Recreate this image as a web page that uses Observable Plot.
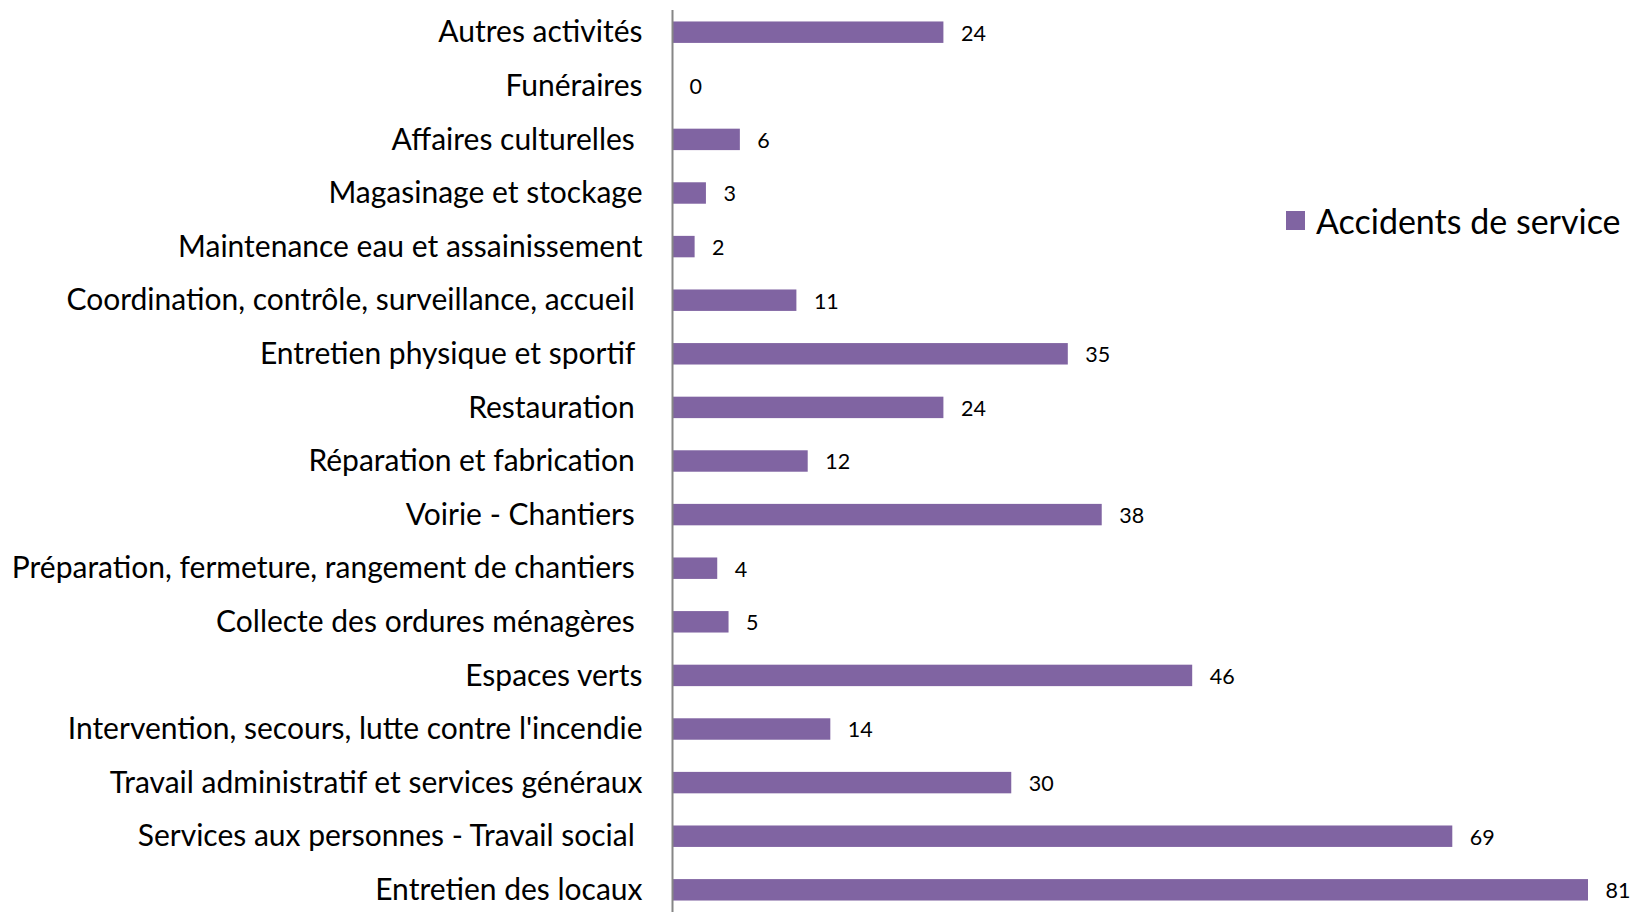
<!DOCTYPE html>
<html>
<head>
<meta charset="utf-8">
<script src="https://cdn.jsdelivr.net/npm/d3@7"></script>
<script src="https://cdn.jsdelivr.net/npm/@observablehq/plot@0.6"></script>
<style>
  html, body { margin: 0; padding: 0; background: #fff; }
  #wrap { position: relative; width: 1637px; height: 912px; font-family: Lato, "Open Sans", sans-serif; }
  #legend { position: absolute; left: 1286px; top: 200px; display: flex; align-items: center; font-size: 34px; color: #000; }
  #legend .sw { width: 19px; height: 19px; background: #8064A2; margin-right: 11px; }
</style>
</head>
<body>
<div id="wrap">
  <div id="chart"></div>
  <div id="legend"><span class="sw"></span><span>Accidents de service</span></div>
</div>
<script>
const categories = [
  "Autres activités",
  "Funéraires",
  "Affaires culturelles\u00a0",
  "Magasinage et stockage",
  "Maintenance eau et assainissement",
  "Coordination, contrôle, surveillance, accueil\u00a0",
  "Entretien physique et sportif\u00a0",
  "Restauration\u00a0",
  "Réparation et fabrication\u00a0",
  "Voirie - Chantiers\u00a0",
  "Préparation, fermeture, rangement de chantiers\u00a0",
  "Collecte des ordures ménagères\u00a0",
  "Espaces verts",
  "Intervention, secours, lutte contre l'incendie",
  "Travail administratif et services généraux",
  "Services aux personnes - Travail social\u00a0",
  "Entretien des locaux"
];
const values = [24, 0, 6, 3, 2, 11, 35, 24, 12, 38, 4, 5, 46, 14, 30, 69, 81];
const seriesName = "Accidents de service";
const barColor = "#8064A2";

const data = categories.map((c, i) => ({category: c, value: values[i]}));

const chart = Plot.plot({
  width: 1637,
  height: 912,
  marginLeft: 672,
  marginRight: 49,
  marginTop: 10,
  marginBottom: 0,
  style: {fontFamily: "Lato, 'Open Sans', sans-serif", background: "#fff", color: "#000"},
  x: {domain: [0, 81], axis: null},
  y: {domain: categories, paddingInner: 0.6, paddingOuter: 0.214, round: false, label: null},
  marks: [
    Plot.barX(data, {x: "value", y: "category", fill: barColor}),
    Plot.ruleX([0], {stroke: "#868686", strokeWidth: 2}),
    Plot.text(data, {x: "value", y: "category", text: d => String(d.value), textAnchor: "start", dx: 17, dy: 1, fontSize: 21.5, fill: "#000"}),
    Plot.axisY({tickSize: 0, tickPadding: 30, fontSize: 30, label: null, fill: "#000"})
  ]
});
document.getElementById("chart").appendChild(chart);
</script>
</body>
</html>
